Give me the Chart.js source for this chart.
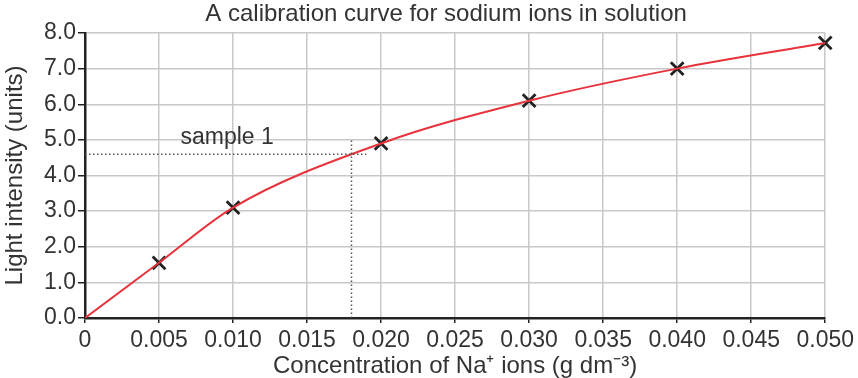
<!DOCTYPE html>
<html>
<head>
<meta charset="utf-8">
<script src="https://cdn.jsdelivr.net/npm/chart.js@4"></script>
<style>
    html, body { margin: 0; padding: 0; background: #fff; }
    #wrap { width: 858px; height: 378px; }
</style>
</head>
<body>
<div id="wrap"><canvas id="calibrationChart"></canvas></div>
<script>
// Calibration data
const concentrations = [0, 0.005, 0.010, 0.020, 0.030, 0.040, 0.050];
const intensities = [0, 1.55, 3.1, 4.9, 6.1, 7.0, 7.72];

// Measured points (crosses), origin is not marked
const markX = [0.005, 0.010, 0.020, 0.030, 0.040, 0.050];
const markY = [1.55, 3.1, 4.9, 6.1, 7.0, 7.72];

// Sample 1 read-off lines
const sampleHX = [0, 0.019];
const sampleHY = [4.6, 4.6];
const sampleVX = [0.018, 0.018];
const sampleVY = [0, 5.03];
const sampleLabel = 'sample 1';
const sampleLabelPos = [0.0096, 5.05];

const chartTitle = 'A calibration curve for sodium ions in solution';

const textColor = '#333';
const fontFamily = 'Arial, "Liberation Sans", Helvetica, sans-serif';

function toPoints(xs, ys) {
    return xs.map((x, i) => ({ x: x, y: ys[i] }));
}

/**
 * Draws the chart title and the "sample 1" text
 */
const textPlugin = {
    id: 'extraText',
    afterDatasetsDraw(chart) {
        const { ctx, scales, chartArea } = chart;
        ctx.save();
        ctx.fillStyle = textColor;
        ctx.textAlign = 'center';
        ctx.textBaseline = 'middle';

        // Title, a little left of the plot centre like the reference
        ctx.font = '24px ' + fontFamily;
        const tx = (chartArea.left + chartArea.right) / 2 - 9;
        ctx.fillText(chartTitle, tx, chartArea.top / 2 - 2);

        const px = scales.x.getPixelForValue(sampleLabelPos[0]);
        const py = scales.y.getPixelForValue(sampleLabelPos[1]);
        ctx.font = '23px ' + fontFamily;
        ctx.fillText(sampleLabel, px, py);
        ctx.restore();
    }
};

const ctx = document.getElementById('calibrationChart');

new Chart(ctx, {
    type: 'scatter',
    data: {
        datasets: [
            {
                label: 'sample h',
                data: toPoints(sampleHX, sampleHY),
                showLine: true,
                borderColor: '#555',
                borderWidth: 1.5,
                borderDash: [1.5, 2.5],
                pointRadius: 0
            },
            {
                label: 'sample v',
                data: toPoints(sampleVX, sampleVY),
                showLine: true,
                borderColor: '#555',
                borderWidth: 1.5,
                borderDash: [1.5, 2.5],
                pointRadius: 0
            },
            {
                label: 'curve',
                data: toPoints(concentrations, intensities),
                showLine: true,
                borderColor: '#e8333c',
                borderWidth: 2,
                cubicInterpolationMode: 'monotone',
                pointRadius: 0
            },
            {
                label: 'points',
                data: toPoints(markX, markY),
                showLine: false,
                clip: false,
                pointStyle: 'crossRot',
                pointRadius: 9,
                borderColor: '#222',
                pointBorderWidth: 2.8
            }
        ]
    },
    options: {
        responsive: true,
        maintainAspectRatio: false,
        animation: false,
        layout: {
            padding: { left: 0, right: 32, top: 33, bottom: 0 }
        },
        plugins: {
            legend: { display: false },
            tooltip: { enabled: false },
            title: { display: false }
        },
        scales: {
            x: {
                type: 'linear',
                min: 0,
                max: 0.05,
                afterFit: (scale) => { scale.height = 60; },
                ticks: {
                    stepSize: 0.005,
                    color: textColor,
                    font: { family: fontFamily, size: 23 },
                    padding: 4,
                    maxRotation: 0,
                    callback: (v) => v === 0 ? '0' : v.toFixed(3)
                },
                grid: {
                    color: '#c8c8c8',
                    lineWidth: 1.5,
                    tickColor: '#222',
                    tickLength: 5
                },
                border: { color: '#222', width: 2.5 },
                title: {
                    display: true,
                    text: 'Concentration of Na\u207A ions (g dm\u207B\u00B3)',
                    color: textColor,
                    font: { family: fontFamily, size: 24 },
                    padding: { top: 0, bottom: -3 }
                }
            },
            y: {
                min: 0,
                max: 8,
                afterFit: (scale) => { scale.width = 85; },
                ticks: {
                    stepSize: 1,
                    color: textColor,
                    font: { family: fontFamily, size: 23 },
                    padding: 2,
                    callback: (v) => v.toFixed(1)
                },
                grid: {
                    color: '#c8c8c8',
                    lineWidth: 1.5,
                    tickColor: '#222',
                    tickLength: 7
                },
                border: { color: '#222', width: 2.5 },
                title: {
                    display: true,
                    text: 'Light intensity (units)',
                    color: textColor,
                    font: { family: fontFamily, size: 24 },
                    padding: { top: 1, bottom: 0 }
                }
            }
        }
    },
    plugins: [textPlugin]
});
</script>
</body>
</html>
